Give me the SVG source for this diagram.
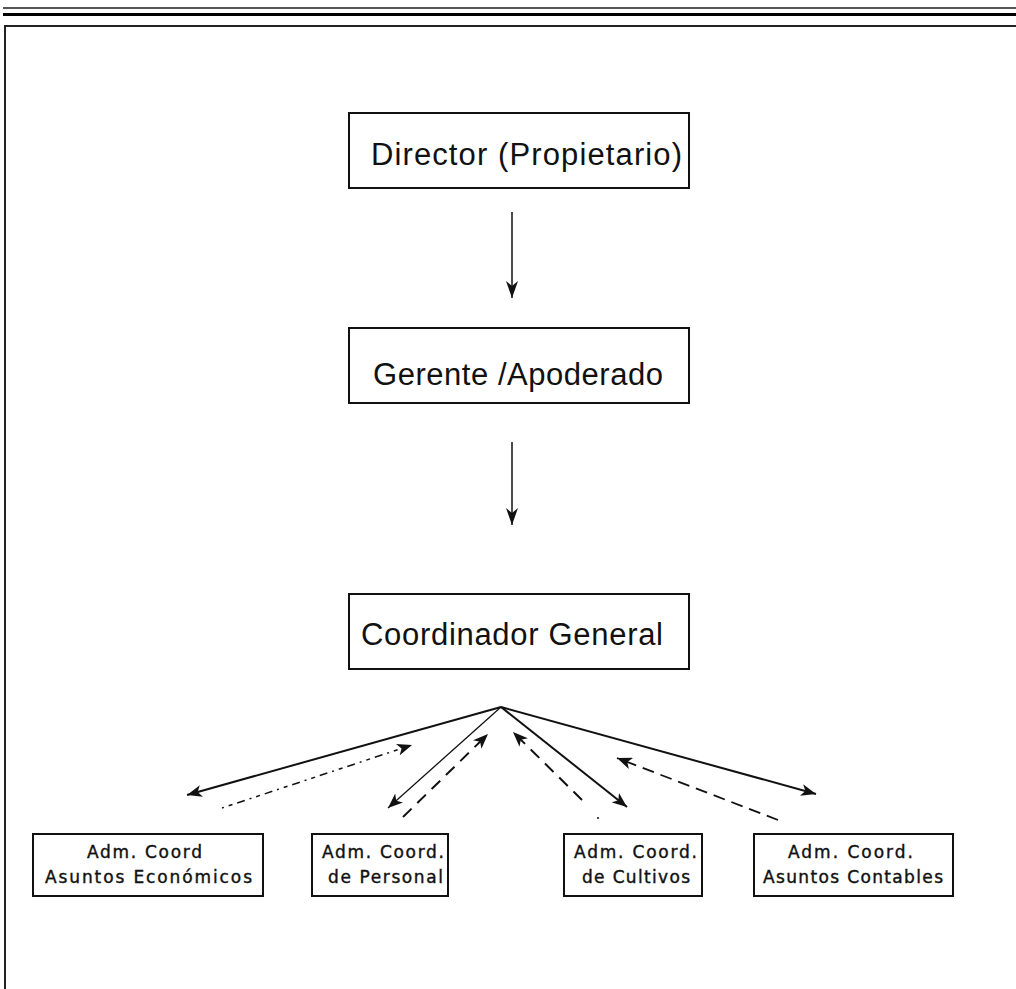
<svg xmlns="http://www.w3.org/2000/svg" width="1016" height="989" viewBox="0 0 1016 989">
<style>
.box{fill:#fff;stroke:#111;stroke-width:2}
.big{font-family:"Liberation Sans",Arial,sans-serif;font-size:31px;fill:#111}
.small{font-family:"DejaVu Sans","Liberation Sans",sans-serif;font-size:17px;fill:#111;stroke:#111;stroke-width:0.4}
.c{fill:none;stroke:#111}
</style>
<defs>
<marker id="ah" markerUnits="userSpaceOnUse" markerWidth="16" markerHeight="12" refX="15" refY="6" orient="auto">
<path d="M0,0 L15,6 L0,12 L4,6 z" fill="#111"/>
</marker>
<marker id="av" markerUnits="userSpaceOnUse" markerWidth="18" markerHeight="12" refX="17" refY="6" orient="auto">
<path d="M0,0 L17,6 L0,12 L5,6 z" fill="#111"/>
</marker>
</defs>
<rect width="1016" height="989" fill="#fff"/>
<g id="frame">
<line x1="3" y1="8" x2="1016" y2="8" stroke="#555" stroke-width="2"/>
<line x1="3" y1="14.5" x2="1016" y2="14.5" stroke="#000" stroke-width="3"/>
<polyline points="5,989 5,26 1016,26" fill="none" stroke="#222" stroke-width="2"/>
</g>
<g id="director">
<rect class="box" x="349" y="113" width="340" height="75"/>
<text class="big" x="371" y="165" textLength="311">Director (Propietario)</text>
</g>
<g id="gerente">
<rect class="box" x="349" y="328" width="340" height="75"/>
<text class="big" x="373" y="385" textLength="290">Gerente /Apoderado</text>
</g>
<g id="coordinador">
<rect class="box" x="349" y="594" width="340" height="75"/>
<text class="big" x="361" y="645" textLength="302">Coordinador General</text>
</g>
<g id="economicos">
<rect class="box" x="33" y="834" width="230" height="62"/>
<text class="small" x="87" y="858" textLength="115">Adm. Coord</text>
<text class="small" x="45" y="883" textLength="207">Asuntos Económicos</text>
</g>
<g id="personal">
<rect class="box" x="312" y="834" width="136" height="62"/>
<text class="small" x="322" y="858" textLength="122">Adm. Coord.</text>
<text class="small" x="328" y="883" textLength="115">de Personal</text>
</g>
<g id="cultivos">
<rect class="box" x="564" y="834" width="138" height="62"/>
<text class="small" x="574" y="858" textLength="123">Adm. Coord.</text>
<text class="small" x="582" y="883" textLength="108">de Cultivos</text>
</g>
<g id="contables">
<rect class="box" x="754" y="834" width="199" height="62"/>
<text class="small" x="788" y="858" textLength="125">Adm. Coord.</text>
<text class="small" x="763" y="883" textLength="180">Asuntos Contables</text>
</g>
<g id="connectors">
<line class="c" x1="512" y1="212" x2="512" y2="298" stroke-width="1.5" marker-end="url(#av)"/>
<line class="c" x1="512" y1="442" x2="512" y2="525" stroke-width="1.5" marker-end="url(#av)"/>
<line class="c" x1="501" y1="707" x2="187" y2="795" stroke-width="2" marker-end="url(#ah)"/>
<line class="c" x1="222" y1="808" x2="412" y2="745" stroke-width="1.5" stroke-dasharray="2,5,4,5,8,5" marker-end="url(#ah)"/>
<line class="c" x1="501" y1="707" x2="388" y2="808" stroke-width="1.3" marker-end="url(#ah)"/>
<line class="c" x1="403" y1="817" x2="488" y2="734" stroke-width="2" stroke-dasharray="12,8" marker-end="url(#ah)"/>
<line class="c" x1="582" y1="800" x2="513" y2="732" stroke-width="2" stroke-dasharray="12,8" marker-end="url(#ah)"/>
<line class="c" x1="501" y1="707" x2="627" y2="807" stroke-width="2" marker-end="url(#ah)"/>
<circle cx="598" cy="818" r="1" fill="#111"/>
<line class="c" x1="778" y1="820" x2="617" y2="758" stroke-width="1.8" stroke-dasharray="12,7" marker-end="url(#ah)"/>
<line class="c" x1="501" y1="707" x2="816" y2="794" stroke-width="2" marker-end="url(#ah)"/>
</g>
</svg>
